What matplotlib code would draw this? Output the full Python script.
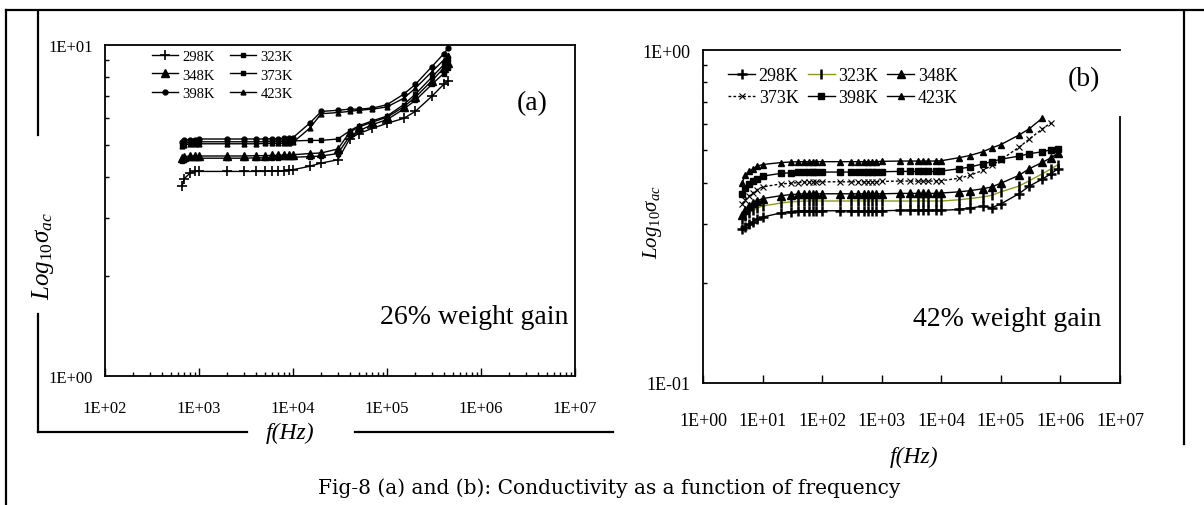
import numpy as np
import matplotlib
matplotlib.use('Agg')
import matplotlib.pyplot as plt
from matplotlib.lines import Line2D
from matplotlib.ticker import FuncFormatter, LogLocator, FixedLocator, NullFormatter

plt.rcParams['font.family'] = ['Liberation Serif', 'DejaVu Serif']
plt.rcParams['mathtext.fontset'] = 'custom'
plt.rcParams['mathtext.rm'] = 'Liberation Serif'
plt.rcParams['mathtext.it'] = 'Liberation Serif:italic'

temps = ['298K', '323K', '348K', '373K', '398K', '423K']

# (a) 26% weight gain
freq_a = [660, 700, 800, 900, 1000, 2000, 3000, 4000, 5000, 6000, 7000, 8000, 9000,
          10000, 15000, 20000, 30000, 40000, 50000, 70000, 100000, 150000, 200000,
          300000, 400000, 450000]
sig_a_298 = [3.75, 3.95, 4.10, 4.15, 4.15, 4.15, 4.15, 4.15, 4.15, 4.16, 4.16, 4.17, 4.18,
             4.20, 4.30, 4.40, 4.50, 5.20, 5.40, 5.60, 5.80, 6.00, 6.30, 7.00, 7.60, 7.80]
sig_a_323 = [4.45, 4.50, 4.55, 4.55, 4.55, 4.55, 4.55, 4.56, 4.56, 4.57, 4.57, 4.58, 4.58,
             4.58, 4.60, 4.62, 4.70, 5.30, 5.50, 5.75, 5.95, 6.40, 6.80, 7.60, 8.20, 8.50]
sig_a_348 = [4.55, 4.60, 4.62, 4.62, 4.62, 4.62, 4.62, 4.63, 4.63, 4.64, 4.64, 4.65, 4.65,
             4.66, 4.70, 4.72, 4.85, 5.45, 5.65, 5.85, 6.05, 6.50, 6.95, 7.80, 8.50, 8.80]
sig_a_373 = [5.00, 5.05, 5.08, 5.08, 5.10, 5.10, 5.10, 5.10, 5.10, 5.11, 5.11, 5.12, 5.12,
             5.13, 5.15, 5.15, 5.20, 5.50, 5.70, 5.90, 6.10, 6.60, 7.10, 8.00, 8.70, 9.00]
sig_a_398 = [5.10, 5.15, 5.18, 5.18, 5.20, 5.20, 5.20, 5.20, 5.20, 5.21, 5.21, 5.22, 5.22,
             5.25, 5.80, 6.30, 6.35, 6.40, 6.40, 6.45, 6.60, 7.10, 7.60, 8.60, 9.40, 9.80]
sig_a_423 = [4.95, 5.00, 5.02, 5.02, 5.03, 5.03, 5.03, 5.03, 5.04, 5.04, 5.05, 5.05, 5.05,
             5.08, 5.60, 6.20, 6.25, 6.30, 6.35, 6.40, 6.50, 6.90, 7.40, 8.30, 9.00, 9.30]

# (b) 42% weight gain
freq_b = [4.6, 5, 6, 7, 8, 10, 20, 30, 40, 50, 60, 70, 80, 100, 200, 300, 400, 500, 600,
          700, 800, 1000, 2000, 3000, 4000, 5000, 6000, 8000, 10000, 20000, 30000, 50000,
          70000, 100000, 200000, 300000, 500000, 700000, 900000]
sig_b_298 = [0.290, 0.295, 0.300, 0.305, 0.310, 0.315, 0.324, 0.327, 0.328, 0.329, 0.329,
             0.329, 0.329, 0.329, 0.329, 0.329, 0.329, 0.329, 0.329, 0.329, 0.329, 0.329,
             0.330, 0.330, 0.330, 0.330, 0.330, 0.330, 0.330, 0.332, 0.335, 0.340, 0.336,
             0.345, 0.370, 0.390, 0.410, 0.425, 0.440]
sig_b_323 = [0.310, 0.318, 0.325, 0.330, 0.335, 0.340, 0.347, 0.350, 0.351, 0.352, 0.352,
             0.352, 0.352, 0.352, 0.352, 0.352, 0.352, 0.352, 0.352, 0.352, 0.352, 0.352,
             0.352, 0.352, 0.352, 0.352, 0.352, 0.352, 0.352, 0.355, 0.358, 0.362, 0.366,
             0.375, 0.390, 0.405, 0.425, 0.440, 0.452]
sig_b_348 = [0.320, 0.330, 0.340, 0.347, 0.352, 0.358, 0.365, 0.368, 0.369, 0.370, 0.370,
             0.370, 0.370, 0.370, 0.370, 0.370, 0.370, 0.370, 0.370, 0.370, 0.370, 0.370,
             0.371, 0.371, 0.371, 0.371, 0.371, 0.371, 0.372, 0.375, 0.378, 0.383, 0.388,
             0.398, 0.420, 0.440, 0.460, 0.475, 0.490]
sig_b_373 = [0.345, 0.355, 0.365, 0.373, 0.380, 0.388, 0.396, 0.398, 0.400, 0.401, 0.401,
             0.402, 0.402, 0.402, 0.402, 0.402, 0.402, 0.402, 0.402, 0.402, 0.402, 0.403,
             0.404, 0.404, 0.404, 0.404, 0.404, 0.404, 0.405, 0.412, 0.420, 0.435, 0.450,
             0.468, 0.510, 0.540, 0.580, 0.605, np.nan]
sig_b_398 = [0.370, 0.385, 0.395, 0.403, 0.410, 0.418, 0.426, 0.428, 0.429, 0.430, 0.430,
             0.430, 0.430, 0.430, 0.430, 0.430, 0.430, 0.430, 0.430, 0.430, 0.430, 0.431,
             0.432, 0.432, 0.432, 0.432, 0.432, 0.432, 0.433, 0.440, 0.445, 0.455, 0.462,
             0.470, 0.480, 0.488, 0.495, 0.502, 0.505]
sig_b_423 = [0.400, 0.420, 0.432, 0.440, 0.447, 0.453, 0.459, 0.461, 0.462, 0.462, 0.462,
             0.462, 0.462, 0.462, 0.462, 0.462, 0.462, 0.462, 0.462, 0.462, 0.462, 0.463,
             0.464, 0.464, 0.464, 0.464, 0.464, 0.464, 0.465, 0.475, 0.482, 0.495, 0.508,
             0.520, 0.555, 0.580, 0.625, np.nan, np.nan]

W, H = 1204, 506


def fx(x):
    return x / W


def fy(y):
    return 1 - y / H


def sci(v, pos):
    return '1E%+03d' % int(round(np.log10(v)))


fig = plt.figure(figsize=(W / 100, H / 100), dpi=100)

# decorative frames from the scanned page
frame = dict(color='black', lw=1.6, transform=fig.transFigure, clip_on=False)
for (x0, y0, x1, y1) in [(6, 11, 1204, 11), (6, 11, 6, 506),
                         (38, 12, 38, 136), (38, 315, 38, 433),
                         (38, 433, 247, 433), (355, 433, 613, 433),
                         (1184, 12, 1184, 445)]:
    fig.add_artist(Line2D([fx(x0), fx(x1)], [fy(y0), fy(y1)], **frame))

ax_a = fig.add_axes([fx(105), fy(377), (575 - 105) / W, (377 - 46) / H])
ax_b = fig.add_axes([fx(703), fy(384), (1120 - 703) / W, (384 - 51) / H])

# ---- panel (a)
styles_a = [dict(marker='+', ms=7, mew=1.2),
            dict(marker='s', ms=3),
            dict(marker='^', ms=6),
            dict(marker='s', ms=2.5),
            dict(marker='o', ms=3.5),
            dict(marker='^', ms=3.5)]
series_a = [sig_a_298, sig_a_323, sig_a_348, sig_a_373, sig_a_398, sig_a_423]
lines_a = []
for t, s, st in zip(temps, series_a, styles_a):
    ln, = ax_a.plot(freq_a, s, color='black', lw=1.0, mfc='black', mec='black',
                    label=t, **st)
    lines_a.append(ln)

ax_a.set_xscale('log')
ax_a.set_yscale('log')
ax_a.set_xlim(1e2, 1e7)
ax_a.set_ylim(1, 10)
ax_a.xaxis.set_major_locator(FixedLocator([1e2, 1e3, 1e4, 1e5, 1e6, 1e7]))
ax_a.xaxis.set_major_formatter(FuncFormatter(sci))
ax_a.xaxis.set_minor_locator(LogLocator(base=10, subs=range(2, 10)))
ax_a.xaxis.set_minor_formatter(NullFormatter())
ax_a.yaxis.set_major_locator(FixedLocator([1, 10]))
ax_a.yaxis.set_major_formatter(FuncFormatter(sci))
ax_a.yaxis.set_minor_locator(LogLocator(base=10, subs=range(2, 10)))
ax_a.yaxis.set_minor_formatter(NullFormatter())
ax_a.tick_params(axis='x', which='major', direction='in', length=6, width=1,
                 pad=17, labelsize=12)
ax_a.tick_params(axis='x', which='minor', direction='in', length=3, width=1)
ax_a.tick_params(axis='y', which='major', direction='in', length=0, pad=9, labelsize=12)
ax_a.tick_params(axis='y', which='minor', direction='in', length=3, width=1)
for sp in ax_a.spines.values():
    sp.set_linewidth(1.3)

order_a = [0, 2, 4, 1, 3, 5]
ax_a.legend([lines_a[i] for i in order_a], [temps[i] for i in order_a], ncol=2,
            loc='upper left', bbox_to_anchor=(fx(152), fy(51)),
            bbox_transform=fig.transFigure, frameon=False, fontsize=10.5,
            handlelength=1.8, handletextpad=0.3, columnspacing=1.0,
            labelspacing=0.35, borderpad=0, borderaxespad=0)
ax_a.set_ylabel(r'$Log_{10}\sigma_{ac}$', fontsize=18, va='center', ha='center')
ax_a.yaxis.set_label_coords((43 - 105) / 470, (377 - 256) / 331)
ax_a.set_xlabel('f(Hz)', fontsize=17, fontstyle='italic', va='center', ha='center')
ax_a.xaxis.set_label_coords((290 - 105) / 470, (377 - 433) / 331)
fig.text(fx(532), fy(104), '(a)', fontsize=20, ha='center', va='center')
fig.text(fx(474), fy(317), '26% weight gain', fontsize=20, ha='center', va='center')

# ---- panel (b)
styles_b = [dict(marker='+', ms=7, mew=1.8, color='black'),
            dict(marker='|', ms=7, mew=1.8, color='#8c9a1c'),
            dict(marker='^', ms=6, color='black'),
            dict(marker='x', ms=4, mew=0.8, color='black', ls=(0, (2, 1.5))),
            dict(marker='s', ms=4.5, color='black'),
            dict(marker='^', ms=4, color='black')]
series_b = [sig_b_298, sig_b_323, sig_b_348, sig_b_373, sig_b_398, sig_b_423]
lines_b = []
for t, s, st in zip(temps, series_b, styles_b):
    ln, = ax_b.plot(freq_b, s, lw=1.0, mfc='black', mec='black', label=t, **st)
    lines_b.append(ln)

ax_b.set_xscale('log')
ax_b.set_yscale('log')
ax_b.set_xlim(1, 1e7)
ax_b.set_ylim(0.1, 1)
ax_b.xaxis.set_major_locator(FixedLocator([1, 1e1, 1e2, 1e3, 1e4, 1e5, 1e6, 1e7]))
ax_b.xaxis.set_major_formatter(FuncFormatter(sci))
ax_b.xaxis.set_minor_locator(FixedLocator([]))
ax_b.yaxis.set_major_locator(FixedLocator([0.1, 1]))
ax_b.yaxis.set_major_formatter(FuncFormatter(sci))
ax_b.yaxis.set_minor_locator(LogLocator(base=10, subs=range(2, 10)))
ax_b.yaxis.set_minor_formatter(NullFormatter())
ax_b.tick_params(axis='x', which='major', direction='in', length=6, width=1,
                 pad=21, labelsize=13)
ax_b.tick_params(axis='y', which='major', direction='in', length=0, pad=9, labelsize=13)
ax_b.tick_params(axis='y', which='minor', direction='in', length=3, width=1)
for sp in ax_b.spines.values():
    sp.set_linewidth(1.3)
ax_b.spines['right'].set_bounds(0.1, 0.63)

order_b = [0, 3, 1, 4, 2, 5]
ax_b.legend([lines_b[i] for i in order_b], [temps[i] for i in order_b], ncol=3,
            loc='upper left', bbox_to_anchor=(fx(728), fy(68)),
            bbox_transform=fig.transFigure, frameon=False, fontsize=13,
            handlelength=1.5, handletextpad=0.2, columnspacing=0.5,
            labelspacing=0.3, borderpad=0, borderaxespad=0)
ax_b.set_ylabel(r'$Log_{10}\sigma_{ac}$', fontsize=15, va='center', ha='center')
ax_b.yaxis.set_label_coords((653 - 703) / 417, (384 - 222) / 333)
ax_b.set_xlabel('f(Hz)', fontsize=17, fontstyle='italic', va='center', ha='center')
ax_b.xaxis.set_label_coords((914 - 703) / 417, (384 - 457) / 333)
fig.text(fx(1084), fy(80), '(b)', fontsize=20, ha='center', va='center')
fig.text(fx(1007), fy(320), '42% weight gain', fontsize=20, ha='center', va='center')

fig.text(fx(609), fy(488), 'Fig-8 (a) and (b): Conductivity as a function of frequency',
         fontsize=14.5, ha='center', va='center', family='DejaVu Serif')

fig.savefig('out.png', dpi=100)
